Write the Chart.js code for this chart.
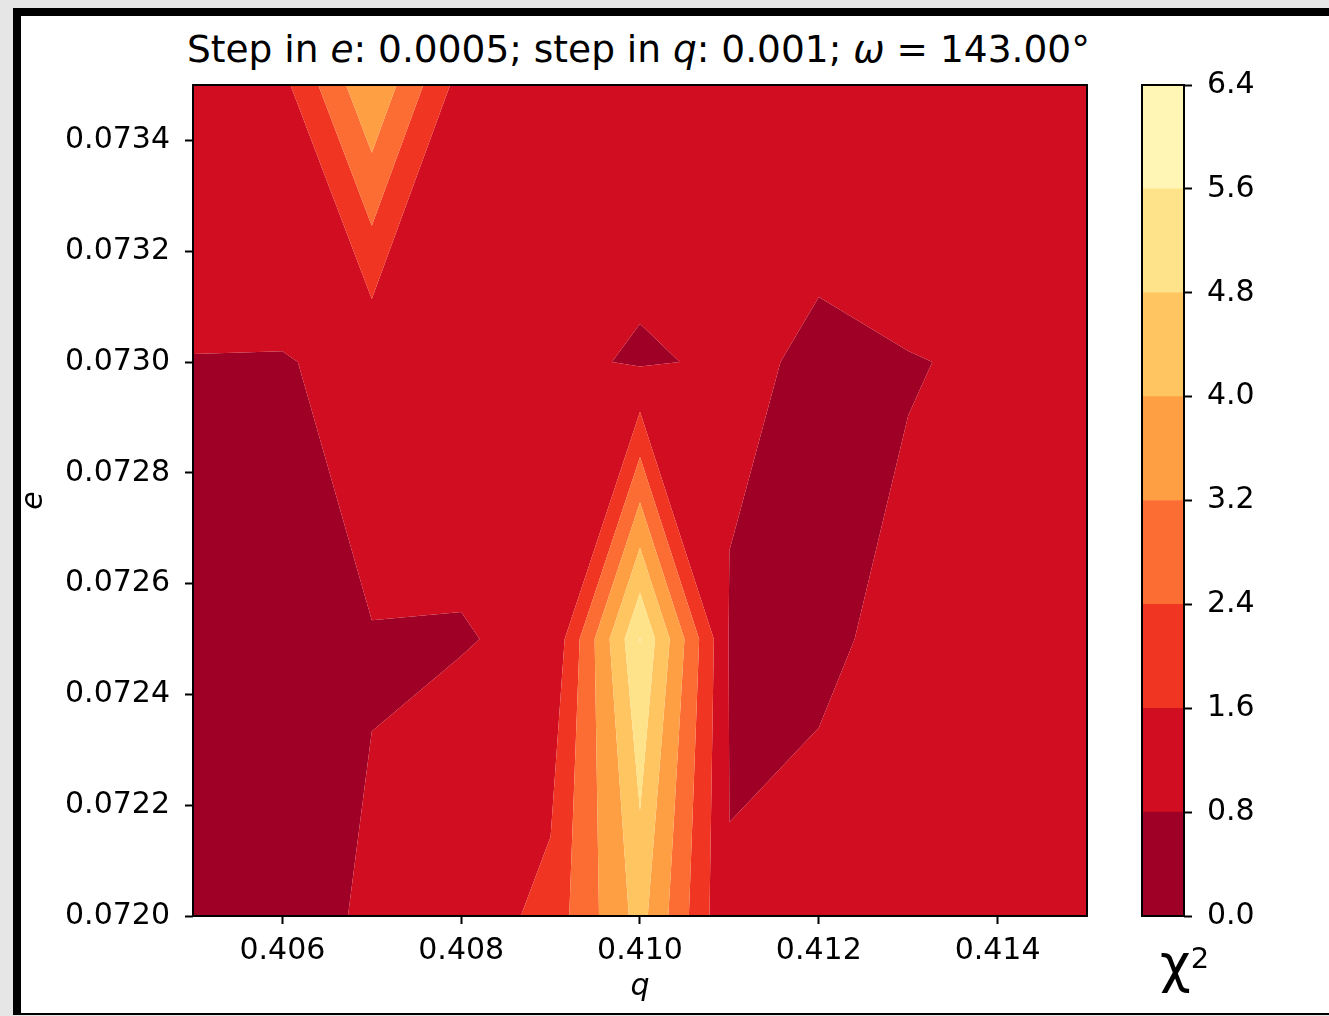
<!DOCTYPE html>
<html>
<head>
<meta charset="utf-8">
<script src="https://cdn.jsdelivr.net/npm/chart.js@4.4.1/dist/chart.umd.min.js"></script>
<style>
    body { margin: 0; width: 1329px; height: 1016px; background: #e6e6e6; overflow: hidden; position: relative; font-family: 'DejaVu Sans', sans-serif; }
    .frame { position: absolute; left: 13px; top: 8px; width: 1400px; height: 1007px; box-sizing: border-box; background: #fff; border-left: 8px solid #000; border-top: 8px solid #000; border-bottom: 2px solid #000; }
    #mapChart { position: absolute; left: 0; top: 0; }
    #barChart { position: absolute; left: 1110px; top: 0; }
    .title { position: absolute; left: 187px; width: 894px; top: 31px; line-height: 36px; font-size: 37.5px; text-align: center; color: #000; white-space: nowrap; }
    .cb-label { position: absolute; left: 1160px; top: 933px; font-size: 53px; line-height: 62px; color: #000; }
    .cb-label sup { font-size: 29px; position: relative; top: -6px; vertical-align: top; }
</style>
</head>
<body>
<div class="frame"></div>
<div class="title">Step in <i>e</i>: 0.0005; step in <i>q</i>: 0.001; <i>ω</i> = 143.00°</div>
<canvas id="mapChart" width="1110" height="1016"></canvas>
<canvas id="barChart" width="219" height="1016"></canvas>
<div class="cb-label">χ<sup>2</sup></div>
<script>
// grid of the scan
const qValues = [0.405, 0.406, 0.407, 0.408, 0.409, 0.410, 0.411, 0.412, 0.413, 0.414, 0.415];
const eValues = [0.0720, 0.0725, 0.0730, 0.0735];

// chi2 per row of e (same order as eValues), one value per q
const chi2Row0720 = [0.55, 0.756, 0.816, 1.00, 1.90, 4.30, 0.824, 0.942, 1.10, 1.20, 1.20];
const chi2Row0725 = [0.60, 0.65, 0.792, 0.787, 0.85, 5.62, 0.753, 0.733, 0.90, 1.00, 1.10];
const chi2Row0730 = [0.785, 0.777, 0.91, 0.92, 0.975, 0.72, 0.90, 0.725, 0.776, 0.865, 1.00];
const chi2Row0735 = [1.30, 1.37, 3.94, 1.27, 1.25, 1.30, 1.20, 1.045, 1.376, 1.40, 1.30];
const chi2Rows = [chi2Row0720, chi2Row0725, chi2Row0730, chi2Row0735];

const levels = [0.0, 0.8, 1.6, 2.4, 3.2, 4.0, 4.8, 5.6, 6.4];
const qTicks = [0.406, 0.408, 0.410, 0.412, 0.414];
const eTicks = [0.0720, 0.0722, 0.0724, 0.0726, 0.0728, 0.0730, 0.0732, 0.0734];

// YlOrRd_r, one colour per band
const bandColors = ['#9f0026', '#d00d21', '#f03523', '#fc6d33', '#fe9f44', '#fec561', '#fee38b', '#fff6b6'];

const FONT = "'DejaVu Sans', sans-serif";

function crossing(a, b, level) {
    const t = (level - a[2]) / (b[2] - a[2]);
    return [a[0] + t * (b[0] - a[0]), a[1] + t * (b[1] - a[1]), level];
}

// clip polygon of [q, e, value] points at a level, keeping the side above or below.
// a quad whose corners alternate is split by the value at its centre, like marching squares
function clipPoly(pts, level, keepAbove) {
    const inside = p => keepAbove ? p[2] >= level : p[2] <= level;
    const flags = pts.map(inside);
    if (pts.length === 4 && flags[0] === flags[2] && flags[1] === flags[3] && flags[0] !== flags[1]) {
        const centre = (pts[0][2] + pts[1][2] + pts[2][2] + pts[3][2]) / 4;
        if (!inside([0, 0, centre])) {
            const parts = [];
            for (let k = 0; k < 4; k++) {
                if (!flags[k]) continue;
                const prev = pts[(k + 3) % 4], next = pts[(k + 1) % 4];
                parts.push([crossing(prev, pts[k], level), pts[k], crossing(pts[k], next, level)]);
            }
            return parts;
        }
    }
    const out = [];
    for (let k = 0; k < pts.length; k++) {
        const a = pts[k];
        const b = pts[(k + 1) % pts.length];
        if (flags[k]) out.push(a);
        if (flags[k] !== flags[(k + 1) % pts.length]) out.push(crossing(a, b, level));
    }
    return out.length >= 3 ? [out] : [];
}

function bandPolygons(lo, hi) {
    const polys = [];
    for (let i = 0; i < eValues.length - 1; i++) {
        for (let j = 0; j < qValues.length - 1; j++) {
            const cell = [
                [qValues[j], eValues[i], chi2Rows[i][j]],
                [qValues[j + 1], eValues[i], chi2Rows[i][j + 1]],
                [qValues[j + 1], eValues[i + 1], chi2Rows[i + 1][j + 1]],
                [qValues[j], eValues[i + 1], chi2Rows[i + 1][j]]
            ];
            clipPoly(cell, lo, true).forEach(p => {
                clipPoly(p, hi, false).forEach(q => polys.push(q));
            });
        }
    }
    return polys;
}

const contourPlugin = {
    id: 'contourFill',
    beforeDatasetsDraw(chart) {
        const { ctx, chartArea, scales: { x, y } } = chart;
        ctx.save();
        ctx.beginPath();
        ctx.rect(chartArea.left, chartArea.top, chartArea.width, chartArea.height);
        ctx.clip();
        for (let b = 0; b < bandColors.length; b++) {
            ctx.beginPath();
            bandPolygons(levels[b], levels[b + 1]).forEach(poly => {
                poly.forEach((p, k) => {
                    const px = x.getPixelForValue(p[0]);
                    const py = y.getPixelForValue(p[1]);
                    if (k === 0) ctx.moveTo(px, py); else ctx.lineTo(px, py);
                });
                ctx.closePath();
            });
            ctx.fillStyle = bandColors[b];
            ctx.fill();
        }
        ctx.restore();
    }
};

const framePlugin = {
    id: 'frame',
    afterDraw(chart) {
        const { ctx, chartArea } = chart;
        ctx.save();
        ctx.strokeStyle = '#000';
        ctx.lineWidth = 2;
        ctx.strokeRect(chartArea.left, chartArea.top, chartArea.width, chartArea.height);
        ctx.restore();
    }
};

const tickGrid = { drawOnChartArea: false, drawTicks: true, tickLength: 8, tickWidth: 2, tickColor: '#000' };

new Chart(document.getElementById('mapChart'), {
    type: 'scatter',
    data: { datasets: [{ data: [] }] },
    options: {
        responsive: false,
        animation: false,
        events: [],
        layout: { padding: { top: 85, right: 23, bottom: 0, left: 0 } },
        plugins: { legend: { display: false }, tooltip: { enabled: false } },
        scales: {
            x: {
                type: 'linear',
                min: qValues[0],
                max: qValues[qValues.length - 1],
                afterBuildTicks: scale => { scale.ticks = qTicks.map(v => ({ value: v })); },
                afterFit: scale => { scale.height = 100; },
                ticks: { color: '#000', font: { family: FONT, size: 30 }, padding: 9, maxRotation: 0, callback: v => v.toFixed(3) },
                grid: tickGrid,
                border: { display: false },
                title: { display: true, text: 'q', color: '#000', font: { family: FONT, size: 30, style: 'italic' }, padding: { top: 0, bottom: 11 } }
            },
            y: {
                type: 'linear',
                min: eValues[0],
                max: eValues[eValues.length - 1],
                afterBuildTicks: scale => { scale.ticks = eTicks.map(v => ({ value: v })); },
                afterFit: scale => { scale.width = 193; },
                ticks: { color: '#000', font: { family: FONT, size: 30 }, padding: 15, callback: v => v.toFixed(4) },
                grid: tickGrid,
                border: { display: false },
                title: { display: true, text: 'e', color: '#000', font: { family: FONT, size: 30, style: 'italic' }, padding: { top: 16, bottom: 0 } }
            }
        }
    },
    plugins: [contourPlugin, framePlugin]
});

// colour bar: one stacked bar per band
new Chart(document.getElementById('barChart'), {
    type: 'bar',
    data: {
        labels: ['chi2'],
        datasets: bandColors.map((color, b) => ({
            data: [levels[b + 1] - levels[b]],
            backgroundColor: color,
            borderWidth: 0,
            barPercentage: 1,
            categoryPercentage: 1
        }))
    },
    options: {
        responsive: false,
        animation: false,
        events: [],
        layout: { padding: { top: 85, right: 0, bottom: 100, left: 32 } },
        plugins: { legend: { display: false }, tooltip: { enabled: false } },
        scales: {
            x: { display: false, stacked: true },
            y: {
                stacked: true,
                position: 'right',
                min: levels[0],
                max: levels[levels.length - 1],
                afterBuildTicks: scale => { scale.ticks = levels.map(v => ({ value: v })); },
                afterFit: scale => { scale.width = 145; },
                ticks: { color: '#000', font: { family: FONT, size: 30 }, padding: 15, callback: v => v.toFixed(1) },
                grid: tickGrid,
                border: { display: false }
            }
        }
    },
    plugins: [framePlugin]
});
</script>
</body>
</html>
